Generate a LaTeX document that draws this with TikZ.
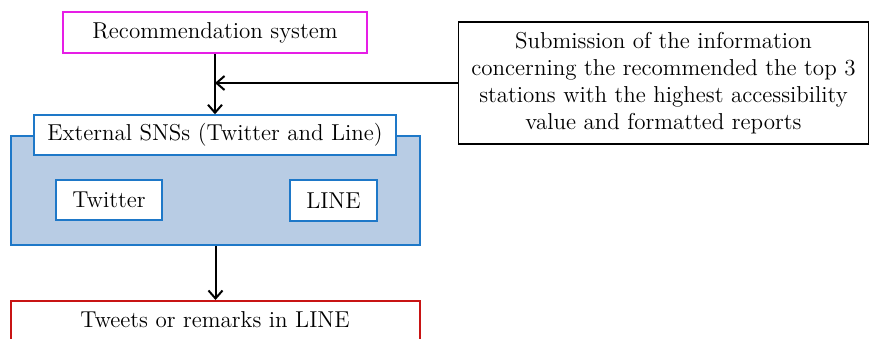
\documentclass[tikz,border=0pt]{standalone}
\usepackage{tikz}
\usetikzlibrary{arrows.meta,positioning}
\definecolor{snsblue}{RGB}{30,120,200}
\definecolor{snsfill}{RGB}{184,204,228}
\definecolor{recpink}{RGB}{230,30,230}
\definecolor{tweetred}{RGB}{200,20,20}

\begin{document}
\begin{tikzpicture}[x=0.5pt,y=-0.5pt,
		every node/.style={font=\fontsize{11.5}{13.4}\selectfont, inner sep=0pt},
		box/.style={draw, line width=0.75pt, fill=white},
		flow/.style={line width=1pt, -{Straight Barb[length=4pt,width=7pt]}}]
		\clip (0,0) rectangle (869,338);
		\node[box, draw=recpink, minimum width=152pt, minimum height=20.5pt] (rec) at (215,32.5) {Recommendation system};
		\node[box, draw=black, minimum width=205pt, minimum height=61pt, align=center] (info) at (663.5,83) {Submission of the information\\concerning the recommended the top 3\\stations with the highest accessibility\\value and formatted reports};
		\node[draw=snsblue, fill=snsfill, line width=0.75pt, minimum width=204.5pt, minimum height=54.5pt] (sns) at (215.5,190.5) {};
		\node[box, draw=snsblue, minimum width=181pt, minimum height=20pt] (snstitle) at (215,135) {External SNSs (Twitter and Line)};
		\node[box, draw=snsblue, minimum width=53pt, minimum height=20pt] (twitter) at (109,200) {Twitter};
		\node[box, draw=snsblue, minimum width=43.5pt, minimum height=20.5pt] (line) at (333.5,200.5) {LINE};
		\node[box, draw=tweetred, minimum width=204.5pt, minimum height=30pt, anchor=north] (tweets) at (215.5,300) {};
		\node (tweetstext) at (215,320) {Tweets or remarks in LINE};
		\coordinate (join) at (215,83);
		\draw[flow] (rec) -- (snstitle);
		\draw[flow] (info.west) -- (join);
		\draw[flow] (sns) -- (tweets);
\end{tikzpicture}
\end{document}
